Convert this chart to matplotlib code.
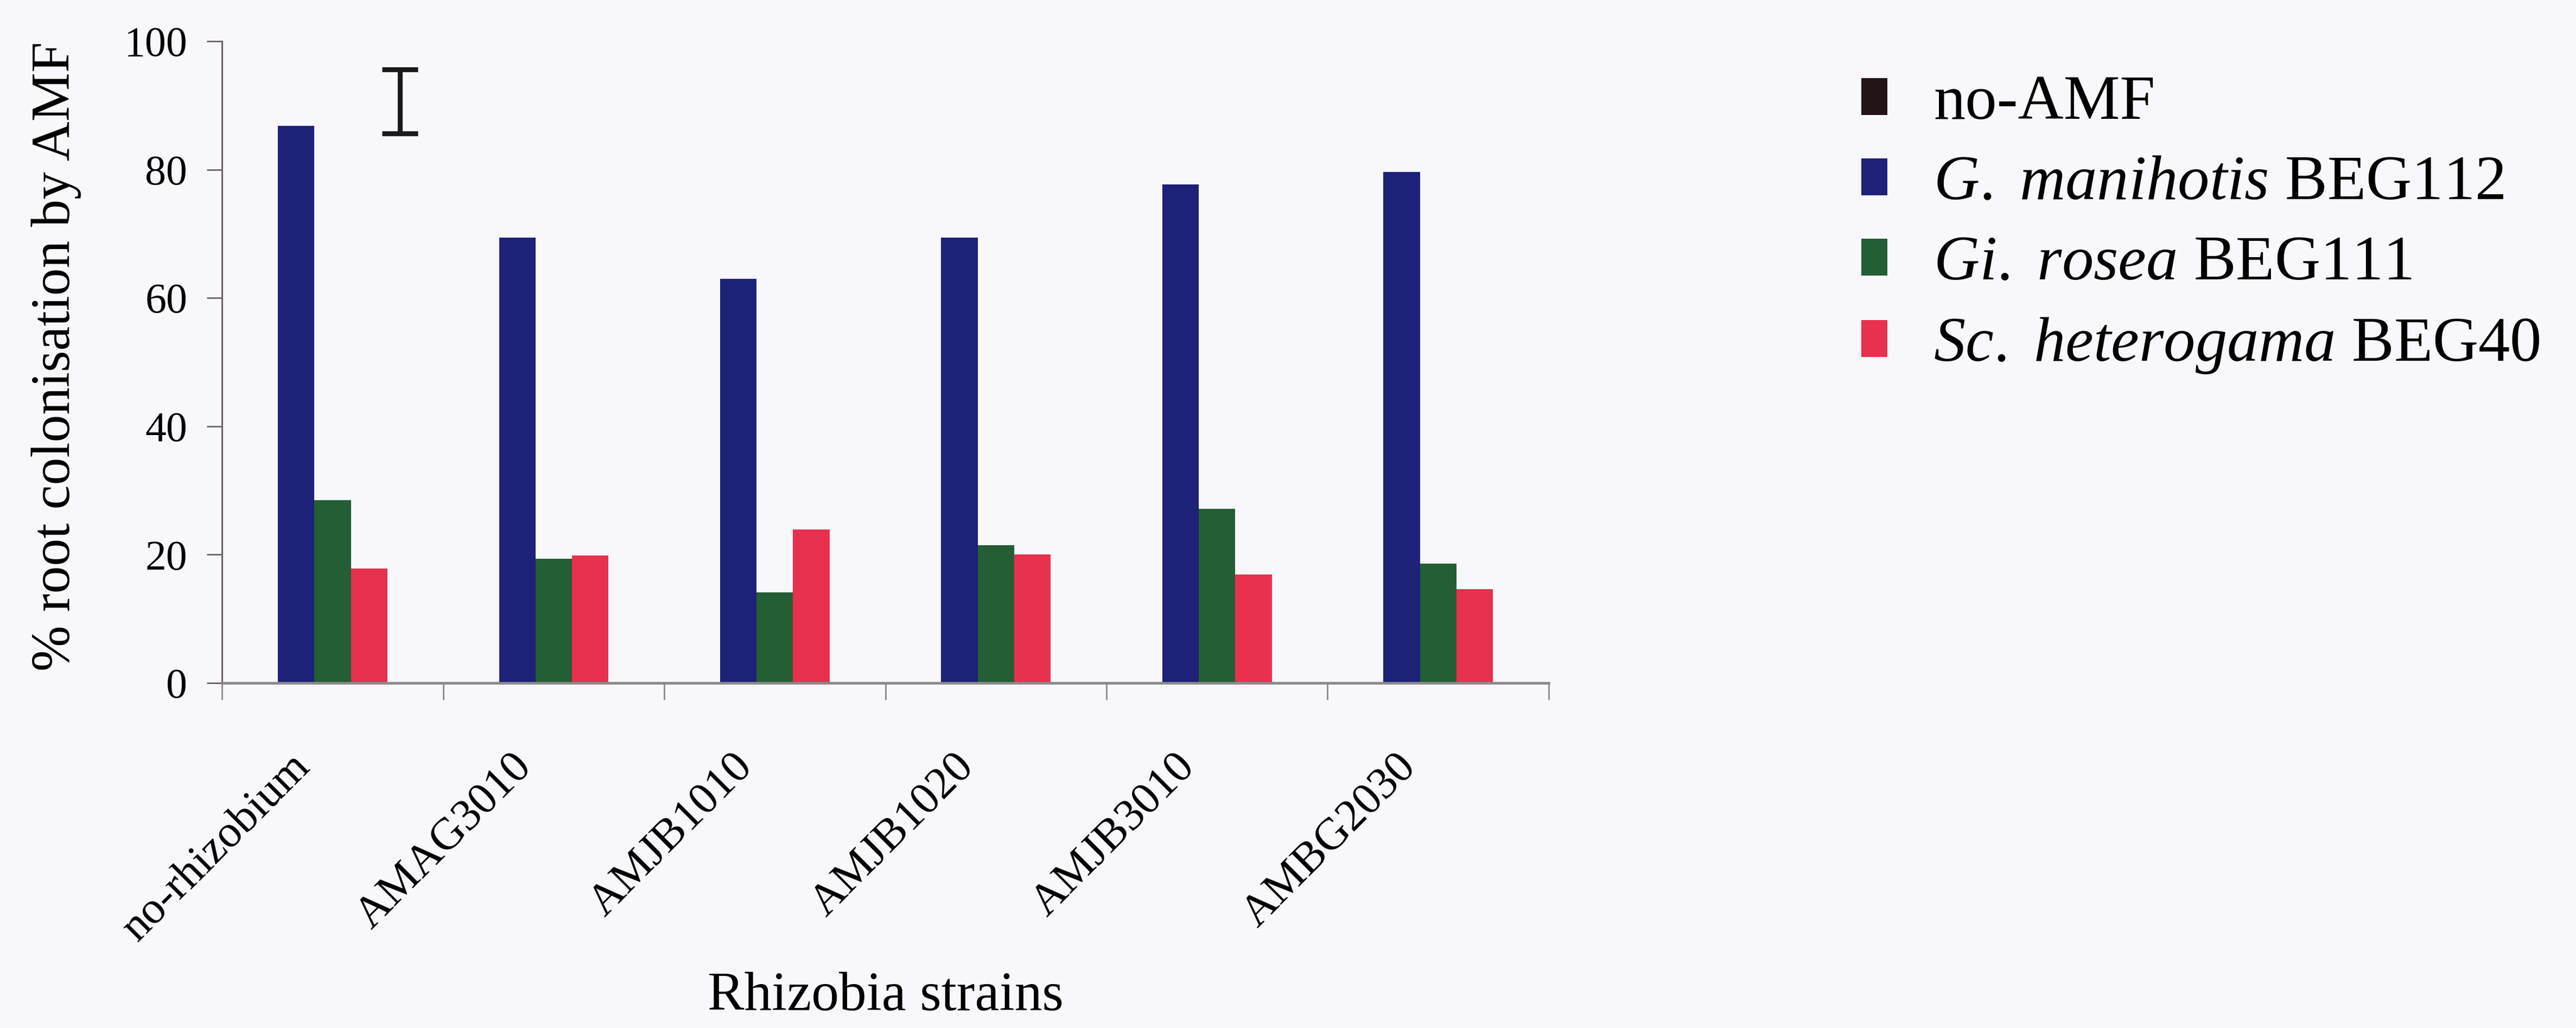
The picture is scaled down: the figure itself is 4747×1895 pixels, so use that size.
import numpy as np
import matplotlib
matplotlib.use("Agg")
import matplotlib.pyplot as plt
from matplotlib.patches import Patch
from matplotlib.transforms import ScaledTranslation

plt.rcParams["font.family"] = ["Liberation Serif", "DejaVu Serif"]
plt.rcParams["mathtext.fontset"] = "custom"
plt.rcParams["mathtext.rm"] = "Liberation Serif"
plt.rcParams["mathtext.it"] = "Liberation Serif:italic"

# strains and % root colonisation per AMF isolate
strains = ["no-rhizobium", "AMAG3010", "AMJB1010", "AMJB1020", "AMJB3010", "AMBG2030"]
manihotis = [86.8, 69.4, 63.0, 69.4, 77.7, 79.6]
rosea = [28.5, 19.4, 14.1, 21.5, 27.1, 18.6]
heterogama = [17.8, 19.9, 23.9, 20.0, 16.9, 14.6]
lsd_mean = 90.6
lsd_half = 5.0

legend_labels = ["no-AMF",
                 r"$\mathit{G.\ manihotis}$ BEG112",
                 r"$\mathit{Gi.\ rosea}$ BEG111",
                 r"$\mathit{Sc.\ heterogama}$ BEG40"]
colors = ["#231418", "#1d2178", "#245e35", "#e8304f"]

bg = "#f8f8fc"
fig = plt.figure(figsize=(47.47, 18.95), dpi=100, facecolor=bg)
ax = fig.add_axes([0.0862, 0.3356, 0.515, 0.6243], facecolor=bg)

x = np.arange(len(strains))
w = 0.165
ax.bar(x - w, manihotis, w, color=colors[1])
ax.bar(x, rosea, w, color=colors[2])
ax.bar(x + w, heterogama, w, color=colors[3])

# LSD bar
ax.errorbar([0.304], [lsd_mean], yerr=[lsd_half], fmt="none", ecolor="#1a1a1a",
            elinewidth=6.5, capsize=24, capthick=6.5)

ax.set_xlim(-0.5, len(strains) - 0.5)
ax.set_ylim(0, 100)
ax.set_yticks(range(0, 101, 20))
ax.tick_params(axis="y", labelsize=56, length=20, width=2, color="#6e6064", pad=26)

ax.set_xticks(np.arange(len(strains) + 1) - 0.5)
ax.set_xticklabels([])
ax.set_xticks(x, minor=True)
ax.set_xticklabels(strains, minor=True, rotation=45, ha="right", va="top",
                   rotation_mode="anchor", fontsize=60)
ax.tick_params(axis="x", which="major", length=22, width=2, color="#8a8a8a")
ax.tick_params(axis="x", which="minor", length=0, pad=84)
shift = ScaledTranslation(-0.8, 0, fig.dpi_scale_trans)
for lab in ax.get_xticklabels(minor=True):
    lab.set_transform(lab.get_transform() + shift)

for s in ["top", "right"]:
    ax.spines[s].set_visible(False)
ax.spines["left"].set_color("#6e6064")
ax.spines["left"].set_linewidth(2.2)
ax.spines["bottom"].set_color("#8a8a8a")
ax.spines["bottom"].set_linewidth(3.5)

ax.set_ylabel("% root colonisation by AMF", fontsize=73)
ax.yaxis.set_label_coords(-0.106, 0.509)
ax.set_xlabel("Rhizobia strains", fontsize=73, va="top")
ax.xaxis.set_label_coords(0.5, -0.45)

handles = [Patch(facecolor=c, edgecolor="none") for c in colors]
fig.legend(handles, legend_labels, loc="upper left", bbox_to_anchor=(0.7226, 0.927),
           frameon=False, fontsize=84, borderpad=0, borderaxespad=0,
           handlelength=0.41, handleheight=0.53, handletextpad=0.73,
           labelspacing=0.36)

fig.savefig("out.png", dpi=100, facecolor=bg)
